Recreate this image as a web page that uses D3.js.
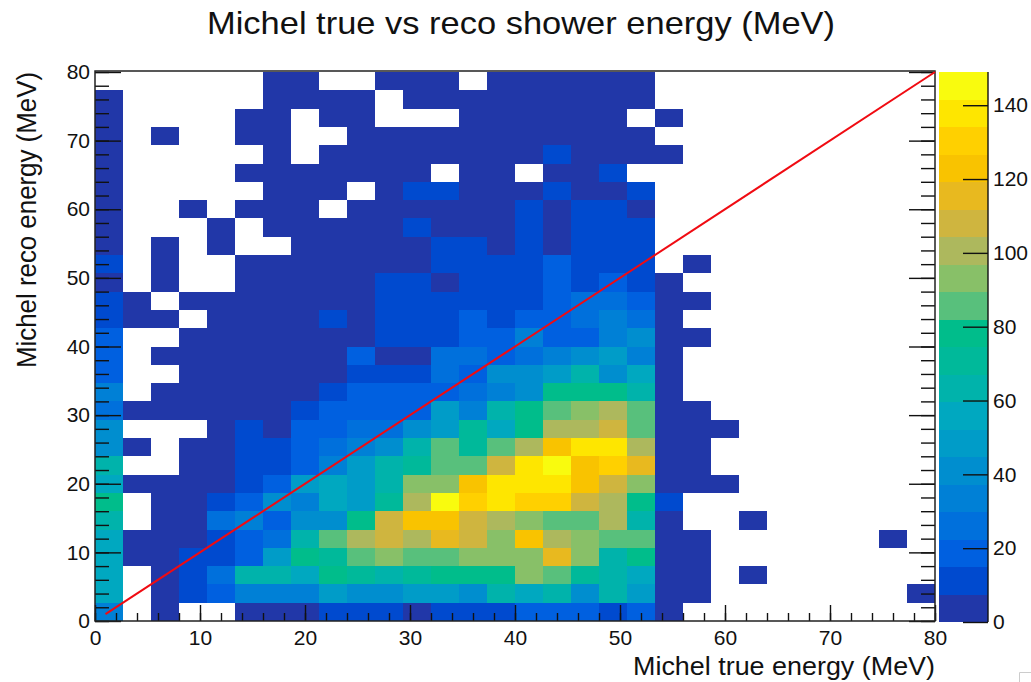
<!DOCTYPE html>
<html><head><meta charset="utf-8">
<script src="https://cdn.jsdelivr.net/npm/d3@7"></script>
<style>
html,body{margin:0;padding:0;background:#fff}
svg{display:block}
text{font-family:"Liberation Sans",Arial,sans-serif;fill:#111}
</style></head><body><svg id="c" width="1031" height="682"></svg>
<script>
const titleText = "Michel true vs reco shower energy (MeV)";
const xLabel = "Michel true energy (MeV)";
const yLabel = "Michel reco energy (MeV)";
const axisMax = 80, binCount = 30, zMax = 149;
const axisMajor = [0,10,20,30,40,50,60,70,80];
const zTicks = [0,20,40,60,80,100,120,140];
const palette = ["#2137a8","#004acf","#0060e0","#0070dc","#0080d6","#008ecf","#009cc8","#00a8c0","#00b3ab","#00b99a","#00bd8b","#58c07c","#88c068","#adb85d","#cfb53f","#e8b91f","#f9c300","#ffd000","#fee600","#f9fb0e"];
const diagonal = [[1,1],[80,80]];
// counts per bin, rows from the top (reco 80) down, columns from true 0; missing trailing entries are empty bins
const counts = [
[0,0,0,0,0,0,4,4,0,0,4,4,4,0,4,4,4,4,4,4],
[4,0,0,0,0,0,4,4,4,4,0,4,4,4,4,4,4,4,4,4],
[4,0,0,0,0,4,4,0,4,4,0,0,0,4,4,4,4,4,4,0,4],
[4,0,4,0,0,4,4,0,0,4,4,4,4,4,4,4,4,4,4,4],
[4,0,0,0,0,0,4,0,4,4,4,4,4,4,4,4,11,4,4,4,4],
[4,0,0,0,0,4,4,4,4,4,4,4,0,4,4,0,4,4,11,0],
[4,0,0,0,0,0,4,4,4,0,4,11,11,4,4,4,11,4,4,11],
[4,0,0,4,0,4,4,4,0,4,4,4,4,4,4,11,4,11,11,4],
[4,0,0,0,4,0,4,4,4,4,4,11,4,4,4,11,4,11,11,11],
[4,0,4,0,4,0,0,4,4,4,4,4,11,11,4,11,4,11,11,11],
[11,0,4,0,0,4,4,4,4,4,4,4,11,11,11,11,19,11,11,11,0,4],
[4,0,4,0,0,4,4,4,4,4,11,11,4,11,11,11,19,11,19,11,4],
[11,4,0,4,4,4,4,4,4,4,11,11,11,11,11,11,19,26,26,19,4,4],
[11,4,4,0,4,4,4,4,11,4,11,11,11,19,11,19,19,26,34,26,4],
[19,0,0,4,4,4,4,4,4,4,11,11,11,19,19,34,19,19,34,41,4,4],
[19,0,4,4,4,4,4,4,4,19,4,4,26,26,19,26,34,41,48,34,4],
[19,0,0,4,4,4,4,4,4,11,11,11,26,19,41,41,48,63,41,56,4],
[34,0,4,4,4,4,4,4,11,19,19,19,19,26,34,41,78,78,78,63,4],
[26,4,4,4,4,4,4,11,19,19,19,19,48,34,63,78,86,93,101,86,4,4],
[41,0,0,0,4,11,4,19,19,26,26,41,48,71,56,78,101,101,108,86,4,4,4],
[41,4,0,4,4,11,11,19,26,34,41,63,86,71,86,101,123,138,138,101,4,4],
[63,0,0,4,4,11,11,19,34,48,63,71,86,86,108,138,145,123,130,115,4,4],
[56,4,4,4,4,11,19,48,56,48,63,93,93,123,138,138,138,123,108,93,4,4,4],
[78,0,4,4,11,19,41,34,56,48,71,101,145,130,138,130,130,108,101,78,11],
[63,0,4,4,26,34,19,41,41,78,108,123,123,108,101,93,86,86,101,63,4,0,0,4],
[56,4,4,4,11,19,26,63,86,101,108,101,115,108,93,123,101,93,86,86,4,4,0,0,0,0,0,0,4],
[56,4,4,11,11,19,48,78,71,86,93,86,86,93,93,93,115,93,63,78,4,4],
[56,0,4,11,26,63,63,56,78,71,63,71,78,78,78,93,86,71,63,56,4,4,0,4],
[56,0,4,11,19,34,34,34,48,41,41,48,48,41,63,56,63,41,63,48,4,4,0,0,0,0,0,0,0,4],
[34,0,4,0,0,4,4,4,11,11,11,4,11,11,11,19,19,19,11,19,4]
];

const svg = d3.select("#c");
const L=95,R=935,T=72,B=621;
const x = d3.scaleLinear([0,axisMax],[L,R]);
const y = d3.scaleLinear([0,axisMax],[B,T]);
const color = d3.scaleQuantize([0,zMax],palette);
const binW = axisMax/binCount;

const cells = counts.flatMap((row,r)=>row.map((v,c)=>({v,c,bin:binCount-1-r}))).filter(d=>d.v>0);
svg.append("g").attr("shape-rendering","crispEdges").selectAll("rect").data(cells).join("rect")
  .attr("x",d=>x(d.c*binW)).attr("width",d=>x((d.c+1)*binW)-x(d.c*binW))
  .attr("y",d=>y((d.bin+1)*binW)).attr("height",d=>y(d.bin*binW)-y((d.bin+1)*binW))
  .attr("fill",d=>color(d.v));

const minor = d3.range(0,axisMax+1,2);
function styleAxis(g){g.select(".domain").remove();g.selectAll("line").attr("stroke","#111").attr("stroke-width",1.4);}
function axisPair(make,tx,ty,majorLen,minorLen,labels){
  const gMin = svg.append("g").attr("transform",`translate(${tx},${ty})`)
    .call(make().tickValues(minor).tickSize(-minorLen).tickFormat("")).call(styleAxis);
  gMin.selectAll("text").remove();
  const a2 = make().tickValues(axisMajor).tickSize(-majorLen).tickSizeOuter(0).tickPadding(7).tickFormat(labels?d3.format("d"):"");
  const g = svg.append("g").attr("transform",`translate(${tx},${ty})`).call(a2).call(styleAxis);
  g.selectAll("text").attr("font-size",21).attr("fill","#222");
  return g;
}
axisPair(()=>d3.axisLeft(y),L,0,26,14,true).selectAll("text").attr("x",-5);
axisPair(()=>d3.axisRight(y),R,0,26,14,false);
axisPair(()=>d3.axisBottom(x),0,B,16,8,true).selectAll("text").attr("y",9).attr("dy","0.71em");

svg.append("path").attr("fill","none").attr("stroke","#222").attr("stroke-width",1.5)
  .attr("d",`M${L},${T-1}H${R}V${B}H${L}Z`);

svg.append("path").datum(diagonal).attr("fill","none").attr("stroke","#f00b12").attr("stroke-width",2)
  .attr("d",d3.line().x(d=>x(d[0])).y(d=>y(d[1])));

// colour bar
const zBar = d3.scaleLinear([0,zMax],[622,T]);
const zL=939,zR=988, step=zMax/palette.length;
svg.append("g").attr("shape-rendering","crispEdges").selectAll("rect").data(palette).join("rect")
  .attr("x",zL).attr("width",zR-zL)
  .attr("y",(d,i)=>zBar((i+1)*step)).attr("height",(d,i)=>zBar(i*step)-zBar((i+1)*step))
  .attr("fill",d=>d);
const zAxis = svg.append("g").attr("transform",`translate(${zR},0)`)
  .call(d3.axisRight(zBar).tickValues(zTicks).tickSize(-25).tickSizeOuter(0).tickPadding(5).tickFormat(d3.format("d")));
zAxis.select(".domain").attr("stroke","#111").attr("stroke-width",1.4).attr("d",`M0,${T}V622`);
zAxis.selectAll("line").attr("stroke","#111").attr("stroke-width",1.4);
zAxis.selectAll("text").attr("x",5).attr("font-size",21).attr("fill","#222");

svg.append("text").attr("x",207).attr("y",34).attr("font-size",32)
  .attr("textLength",628).attr("lengthAdjust","spacingAndGlyphs").text(titleText);
svg.append("text").attr("x",633).attr("y",675).attr("font-size",25)
  .attr("textLength",302).attr("lengthAdjust","spacingAndGlyphs").text(xLabel);
svg.append("text").attr("transform",`translate(36,368) rotate(-90)`).attr("font-size",27)
  .attr("textLength",296).attr("lengthAdjust","spacingAndGlyphs").text(yLabel);
svg.append("path").attr("fill","none").attr("stroke","#ccc").attr("d","M1031,672.5H1019.5V682");
</script></body></html>
